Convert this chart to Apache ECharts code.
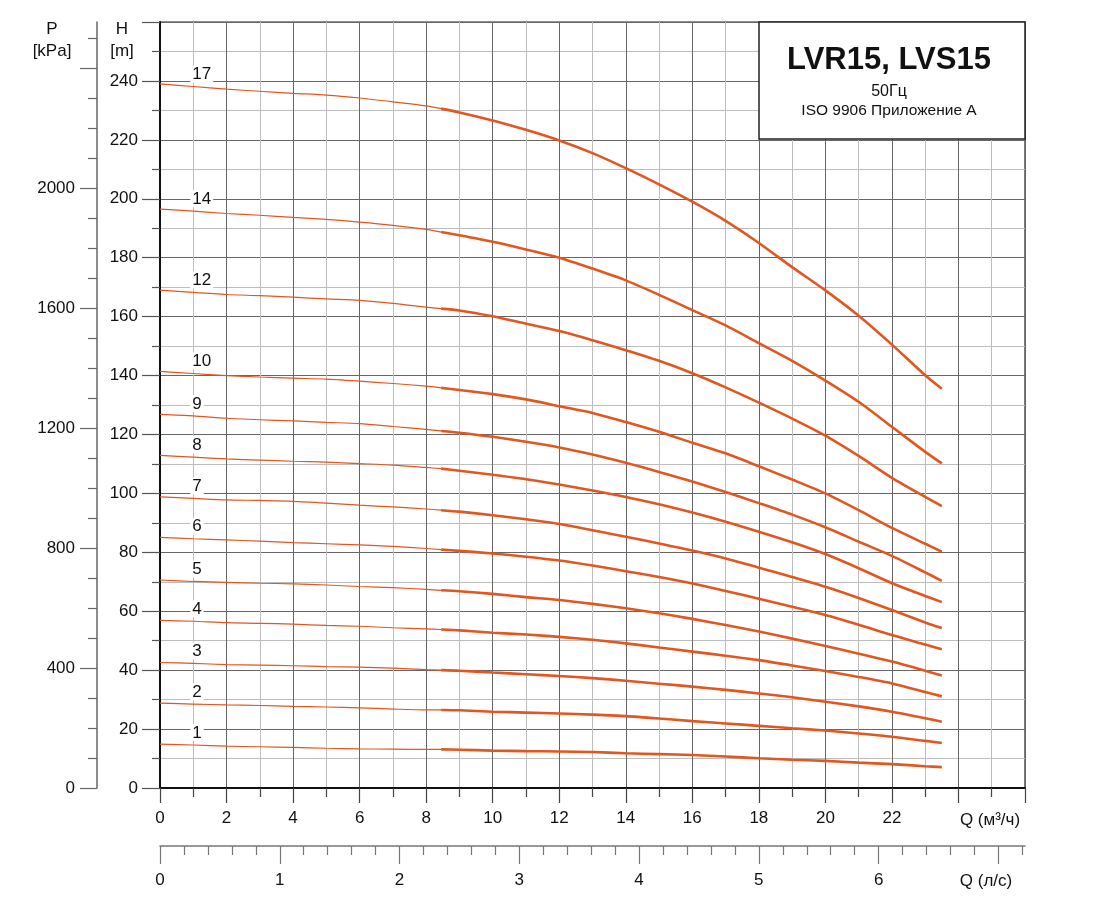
<!DOCTYPE html>
<html>
<head>
<meta charset="utf-8">
<title>LVR15, LVS15</title>
<script src="https://cdn.jsdelivr.net/npm/echarts@6/dist/echarts.min.js"></script>
<style>
  html, body { margin: 0; padding: 0; background: #fff; }
  #chart { width: 1117px; height: 916px; }
</style>
</head>
<body>
<div id="chart"></div>
<script>
// flow points (m3/h) the curves were read at; 8.45 is where the thin line turns thick
const Q = [0, 1, 2, 3, 4, 5, 6, 7, 8, 8.45, 9, 10, 11, 12, 13, 14, 15, 16, 17, 18, 19, 20, 21, 22, 23, 23.5];
const SPLIT = 9;

// head H (m) for each number of stages
const H17 = [239.0, 238.1, 237.2, 236.5, 235.8, 235.2, 234.2, 232.9, 231.5, 230.6, 229.3, 226.6, 223.4, 219.8, 215.5, 210.4, 204.9, 199.0, 192.5, 185.0, 176.8, 168.9, 160.3, 150.5, 140.1, 135.5];
const H14 = [196.5, 195.8, 195.0, 194.4, 193.7, 193.0, 192.1, 191.0, 189.6, 188.7, 187.6, 185.4, 182.8, 180.0, 176.3, 172.3, 167.4, 162.2, 157.0, 151.0, 145.0, 138.3, 131.1, 122.6, 114.1, 110.2];
const H12 = [169.0, 168.2, 167.5, 167.1, 166.6, 166.0, 165.5, 164.5, 163.2, 162.7, 162.1, 160.1, 157.6, 155.1, 152.0, 148.6, 145.0, 140.8, 136.0, 130.8, 125.4, 119.6, 112.7, 105.3, 98.8, 95.7];
const H10 = [141.4, 140.7, 140.0, 139.5, 139.1, 138.8, 138.1, 137.3, 136.4, 135.8, 135.1, 133.7, 131.9, 129.6, 127.3, 124.2, 120.9, 117.2, 113.6, 109.2, 104.7, 100.0, 94.3, 88.3, 82.9, 80.2];
const H9 = [126.8, 126.3, 125.5, 125.0, 124.6, 124.1, 123.7, 122.7, 121.7, 121.2, 120.6, 119.2, 117.5, 115.6, 113.2, 110.4, 107.3, 104.0, 100.5, 96.7, 92.8, 88.5, 83.6, 78.8, 73.2, 70.3];
const H8 = [112.9, 112.3, 111.7, 111.3, 110.9, 110.6, 110.1, 109.6, 108.8, 108.4, 107.7, 106.3, 104.8, 103.0, 101.0, 98.8, 96.3, 93.5, 90.4, 87.0, 83.4, 79.4, 74.6, 69.5, 65.2, 63.1];
const H7 = [98.8, 98.3, 97.8, 97.6, 97.3, 96.7, 96.0, 95.4, 94.7, 94.3, 93.8, 92.6, 91.2, 89.6, 87.5, 85.3, 83.0, 80.6, 77.9, 74.8, 71.6, 68.3, 64.5, 60.4, 56.2, 54.3];
const H6 = [85.1, 84.6, 84.2, 83.8, 83.3, 82.9, 82.5, 82.0, 81.3, 80.9, 80.5, 79.6, 78.5, 77.2, 75.5, 73.6, 71.6, 69.4, 66.9, 64.2, 61.5, 58.7, 55.4, 51.9, 48.7, 47.1];
const H5 = [70.6, 70.1, 69.8, 69.5, 69.3, 68.9, 68.4, 68.0, 67.4, 67.1, 66.8, 65.9, 64.8, 63.8, 62.5, 61.0, 59.3, 57.4, 55.3, 53.1, 50.7, 48.2, 45.6, 42.9, 39.8, 38.2];
const H4 = [56.9, 56.6, 56.1, 55.9, 55.6, 55.2, 54.9, 54.4, 54.0, 53.8, 53.5, 52.7, 52.1, 51.3, 50.3, 49.1, 47.7, 46.3, 44.9, 43.4, 41.6, 39.7, 37.7, 35.5, 32.6, 31.1];
const H3 = [42.6, 42.3, 41.9, 41.7, 41.5, 41.2, 41.0, 40.7, 40.2, 40.0, 39.8, 39.2, 38.6, 38.0, 37.3, 36.4, 35.4, 34.4, 33.3, 32.1, 30.8, 29.3, 27.7, 25.9, 23.7, 22.5];
const H2 = [28.8, 28.5, 28.2, 28.0, 27.7, 27.5, 27.2, 26.8, 26.5, 26.5, 26.4, 25.9, 25.6, 25.3, 24.9, 24.4, 23.6, 22.7, 21.9, 21.1, 20.3, 19.5, 18.5, 17.4, 16.0, 15.3];
const H1 = [14.9, 14.6, 14.2, 14.0, 13.8, 13.5, 13.3, 13.2, 13.1, 13.1, 13.0, 12.7, 12.5, 12.4, 12.2, 11.8, 11.5, 11.2, 10.7, 10.1, 9.6, 9.2, 8.6, 8.1, 7.4, 7.1];

const CURVES = [
  ['17', H17], ['14', H14], ['12', H12], ['10', H10], ['9', H9], ['8', H8],
  ['7', H7], ['6', H6], ['5', H5], ['4', H4], ['3', H3], ['2', H2], ['1', H1]
];

// axis ranges and tick labels
const Q_MAX = 26;
const H_MAX = 260;
const P_MAX = 2553;
const Q_LABELS = [0, 2, 4, 6, 8, 10, 12, 14, 16, 18, 20, 22];
const H_LABELS = [0, 20, 40, 60, 80, 100, 120, 140, 160, 180, 200, 220, 240];
const P_MAJOR = [0, 400, 800, 1200, 1600, 2000, 2400];
const P_LABELS = [0, 400, 800, 1200, 1600, 2000];
const P_MINOR = [100, 200, 300, 500, 600, 700, 900, 1000, 1100, 1300, 1400, 1500, 1700, 1800, 1900, 2100, 2200, 2300, 2500];
const L_MAJOR = [0, 1, 2, 3, 4, 5, 6, 7];
const L_LABELS = [0, 1, 2, 3, 4, 5, 6];
const L_MINOR = [0.2, 0.4, 0.6, 0.8, 1.2, 1.4, 1.6, 1.8, 2.2, 2.4, 2.6, 2.8, 3.2, 3.4, 3.6, 3.8, 4.2, 4.4, 4.6, 4.8, 5.2, 5.4, 5.6, 5.8, 6.2, 6.4, 6.6, 6.8, 7.2];

const FONT = 'Liberation Sans, Arial, sans-serif';
const ORANGE = '#e2561f';
const INK = '#111';

const chart = echarts.init(document.getElementById('chart'));

const series = [];
CURVES.forEach(([name, h]) => {
  const pts = Q.map((q, i) => [q, h[i]]);
  series.push({
    name: name + ' thin', type: 'line', data: pts.slice(0, SPLIT + 1),
    showSymbol: false, smooth: 0.25,
    lineStyle: { color: ORANGE, width: 1.2 }, z: 3
  });
  series.push({
    name: name, type: 'line', data: pts.slice(SPLIT),
    showSymbol: false, smooth: 0.25,
    lineStyle: { color: ORANGE, width: 2.6 }, z: 3
  });
});
series.push({
  type: 'scatter', symbolSize: 0, z: 4, silent: true,
  itemStyle: { opacity: 1 },
  data: CURVES.map(([name, h]) => ({ value: [Q[1], h[1]], name: name })),
  label: {
    show: true, position: 'top', distance: 4, align: 'left', offset: [-3, 0],
    formatter: p => p.name, fontFamily: FONT, fontSize: 17, color: INK, opacity: 1,
    backgroundColor: '#fff', padding: [1, 2, 0, 2], lineHeight: 16
  }
});

const txt = (x, y, text, size, weight) => ({
  type: 'text', x: x, y: y, z: 20,
  style: { text: text, fontFamily: FONT, fontSize: size, fontWeight: weight || 'normal',
           fill: INK, textAlign: 'center', textVerticalAlign: 'middle' }
});

chart.setOption({
  animation: false,
  backgroundColor: '#fff',
  grid: { left: 160, right: 92, top: 22, bottom: 128, show: true, borderColor: '#222', borderWidth: 1.2 },
  xAxis: [
    {
      type: 'value', min: 0, max: Q_MAX, interval: 2, position: 'bottom',
      axisLine: { onZero: false, lineStyle: { color: INK, width: 2 } },
      axisTick: { length: 15, lineStyle: { color: '#444', width: 1.2 } },
      minorTick: { show: true, splitNumber: 2, length: 9, lineStyle: { color: '#444', width: 1.2 } },
      axisLabel: { formatter: v => (Q_LABELS.includes(v) ? String(v) : ''), margin: 22, fontFamily: FONT, fontSize: 17, color: INK },
      splitLine: { show: true, lineStyle: { color: '#666', width: 1 } },
      minorSplitLine: { show: true, lineStyle: { color: '#bdbdbd', width: 1 } }
    },
    {
      type: 'value', min: 0, max: Q_MAX / 3.6, position: 'bottom', offset: 58,
      axisLine: { show: true, onZero: false, lineStyle: { color: '#777', width: 1.5 } },
      axisTick: { show: true, customValues: L_MAJOR, length: 18, lineStyle: { color: '#777', width: 1.2 } },
      axisLabel: { customValues: L_LABELS, formatter: v => String(v), margin: 26, fontFamily: FONT, fontSize: 17, color: INK },
      splitLine: { show: false }
    },
    {
      type: 'value', min: 0, max: Q_MAX / 3.6, position: 'bottom', offset: 58,
      axisLine: { show: false, onZero: false },
      axisTick: { show: true, customValues: L_MINOR, length: 9, lineStyle: { color: '#777', width: 1.2 } },
      axisLabel: { show: false },
      splitLine: { show: false }
    }
  ],
  yAxis: [
    {
      type: 'value', min: 0, max: H_MAX, interval: 20, position: 'left',
      axisLine: { show: true, onZero: false, lineStyle: { color: INK, width: 2 } },
      axisTick: { show: true, length: 18, lineStyle: { color: '#555', width: 1.2 } },
      minorTick: { show: true, splitNumber: 2, length: 8, lineStyle: { color: '#555', width: 1.2 } },
      axisLabel: { formatter: v => (H_LABELS.includes(v) ? String(v) : ''), margin: 22, fontFamily: FONT, fontSize: 17, color: INK },
      splitLine: { show: true, lineStyle: { color: '#666', width: 1 } },
      minorSplitLine: { show: true, lineStyle: { color: '#bdbdbd', width: 1 } }
    },
    {
      type: 'value', min: 0, max: P_MAX, position: 'left', offset: 63,
      axisLine: { show: true, onZero: false, lineStyle: { color: '#666', width: 1.5 } },
      axisTick: { show: true, customValues: P_MAJOR, length: 17, lineStyle: { color: '#666', width: 1.2 } },
      axisLabel: { customValues: P_LABELS, formatter: v => String(v), margin: 22, fontFamily: FONT, fontSize: 17, color: INK },
      splitLine: { show: false }
    },
    {
      type: 'value', min: 0, max: P_MAX, position: 'left', offset: 63,
      axisLine: { show: false, onZero: false },
      axisTick: { show: true, customValues: P_MINOR, length: 9, lineStyle: { color: '#666', width: 1.2 } },
      axisLabel: { show: false },
      splitLine: { show: false }
    }
  ],
  graphic: [
    txt(52, 29, 'P', 17), txt(52, 51, '[kPa]', 17),
    txt(122, 29, 'H', 17), txt(122, 51, '[m]', 17),
    txt(990, 820, 'Q (м³/ч)', 17), txt(986, 881, 'Q (л/с)', 17),
    {
      type: 'rect', z: 15,
      shape: { x: 759, y: 22, width: 266, height: 117 },
      style: { fill: '#fff', stroke: '#222', lineWidth: 1.5 }
    },
    txt(889, 60, 'LVR15, LVS15', 31, 'bold'),
    txt(889, 92, '50Гц', 16),
    txt(889, 111, 'ISO 9906 Приложение A', 15.5)
  ],
  series: series
});
</script>
</body>
</html>
